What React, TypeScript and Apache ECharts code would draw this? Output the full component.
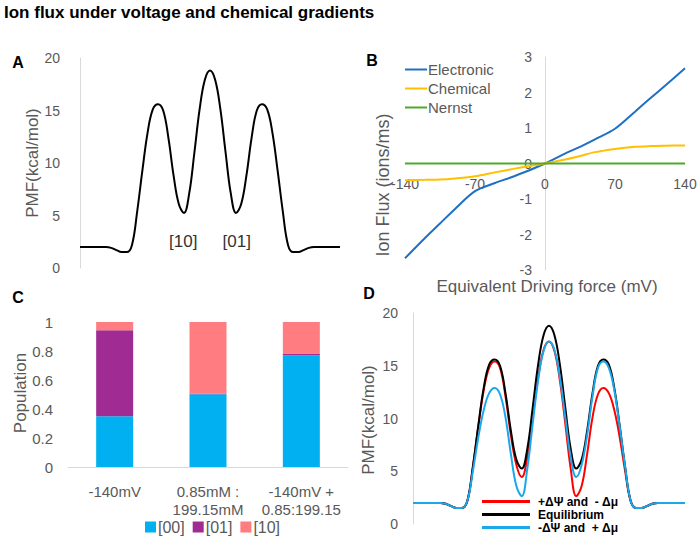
import React, { useEffect, useRef } from "react";
import * as echarts from "echarts";

// ---------- Panel A / D : PMF profiles ----------
const pmfX = [0, 2, 4, 6, 8, 10, 12, 14, 16, 18, 20, 22, 24, 26, 28, 30, 32, 34, 36, 38, 40, 42, 44, 46, 48, 50, 52, 54, 56, 58, 60, 62, 64, 66, 68, 70, 72, 74, 76, 78, 80, 82, 84, 86, 88, 90, 92, 94, 96, 98, 100];
const pmfEquilibrium = [2.0, 2.0, 2.0, 2.0, 2.0, 2.0, 1.92, 1.7, 1.52, 1.52, 2.2, 5.4, 9.3, 12.9, 15.1, 15.6, 15.0, 12.4, 8.8, 6.1, 5.25, 7.1, 11.0, 15.1, 17.9, 18.8, 17.9, 15.1, 11.0, 7.1, 5.25, 6.1, 8.8, 12.4, 15.0, 15.6, 15.1, 12.9, 9.3, 5.4, 2.2, 1.52, 1.52, 1.7, 1.92, 2.0, 2.0, 2.0, 2.0, 2.0, 2.0];
const pmfPlusPsi = [2.0, 2.0, 2.0, 2.0, 2.0, 2.0, 1.92, 1.7, 1.52, 1.52, 2.2, 5.4, 9.2, 12.7, 14.8, 15.4, 14.8, 12.1, 8.4, 5.6, 4.45, 6.3, 10.1, 13.9, 16.5, 17.3, 16.4, 13.6, 9.5, 5.2, 2.65, 3.6, 6.6, 10.1, 12.3, 12.9, 12.4, 10.8, 8.2, 5.0, 2.2, 1.52, 1.52, 1.7, 1.92, 2.0, 2.0, 2.0, 2.0, 2.0, 2.0];
const pmfMinusPsi = [2.0, 2.0, 2.0, 2.0, 2.0, 2.0, 1.92, 1.7, 1.52, 1.52, 2.2, 5.0, 8.2, 10.8, 12.4, 12.9, 12.3, 10.1, 6.6, 3.6, 2.65, 5.2, 9.5, 13.6, 16.4, 17.3, 16.5, 13.9, 10.1, 6.3, 4.45, 5.6, 8.4, 12.1, 14.8, 15.4, 14.8, 12.7, 9.2, 5.4, 2.2, 1.52, 1.52, 1.7, 1.92, 2.0, 2.0, 2.0, 2.0, 2.0, 2.0];
const siteLabels = ["[10]", "[01]"];
const siteX = [39.7, 60.3];
const siteY = [2.5, 2.5];

// ---------- Panel B : Ion flux ----------
const fluxX = [-140, -120, -105, -90, -70, -50, -35, -20, 0, 20, 35, 50, 70, 90, 105, 120, 140];
const fluxElectronic = [-2.67, -2.1, -1.69, -1.28, -0.78, -0.55, -0.4, -0.24, 0, 0.28, 0.47, 0.68, 0.98, 1.46, 1.83, 2.19, 2.68];
const fluxChemical = [-0.47, -0.46, -0.45, -0.42, -0.36, -0.25, -0.17, -0.09, 0, 0.11, 0.21, 0.32, 0.41, 0.47, 0.49, 0.5, 0.51];
const fluxNernst = [0, 0, 0, 0, 0, 0, 0, 0, 0, 0, 0, 0, 0, 0, 0, 0, 0];

// ---------- Panel C : Population ----------
const popCategories = ["-140mV", "0.85mM :\n199.15mM", "-140mV +\n0.85:199.15"];
const pop00 = [0.35, 0.502, 0.77];
const pop01 = [0.593, 0.004, 0.012];
const pop10 = [0.057, 0.494, 0.218];

const FONT = "Liberation Sans";
const GRAY = "#595959";
const AXIS = "#d9d9d9";

const zip = (xs: number[], ys: number[]) => xs.map((x, i) => [x, ys[i]]);

export default function App() {
  const ref = useRef<HTMLDivElement>(null);
  useEffect(() => {
    const chart = echarts.init(ref.current!, null, { renderer: "svg" });
    const tick = { color: GRAY, fontSize: 14, fontFamily: FONT };
    const gridB = { left: 405, top: 57, width: 280, height: 213 };
    const option: any = {
      animation: false,
      backgroundColor: "#ffffff",
      textStyle: { fontFamily: FONT },
      grid: [
        { left: 80, top: 58, width: 260, height: 210 },
        gridB,
        { left: 68, top: 322, width: 280, height: 145 },
        { left: 413, top: 313, width: 272, height: 211 },
      ],
      xAxis: [
        { type: "value", gridIndex: 0, min: 0, max: 100, show: false },
        {
          type: "value", gridIndex: 1, min: -140, max: 140, interval: 70, position: "bottom",
          offset: -gridB.height / 2,
          axisLine: { onZero: false, lineStyle: { color: AXIS } },
          axisTick: { show: false }, splitLine: { show: false },
          axisLabel: { ...tick, margin: 13 },
        },
        {
          type: "category", gridIndex: 2, data: popCategories,
          axisLine: { lineStyle: { color: AXIS } }, axisTick: { show: false },
          axisLabel: { color: GRAY, fontSize: 15, lineHeight: 18, margin: 15, interval: 0, fontFamily: FONT },
        },
        { type: "value", gridIndex: 3, min: 0, max: 100, show: false },
      ],
      yAxis: [
        {
          type: "value", gridIndex: 0, min: 0, max: 20, interval: 5,
          axisLine: { show: true, lineStyle: { color: AXIS } }, axisTick: { show: false },
          splitLine: { show: false }, axisLabel: { ...tick, margin: 20 },
        },
        {
          type: "value", gridIndex: 1, min: -3, max: 3, interval: 1, position: "left",
          offset: -gridB.width / 2,
          axisLine: { show: true, onZero: false, lineStyle: { color: AXIS } }, axisTick: { show: false },
          splitLine: { show: false }, axisLabel: { ...tick, margin: 13 },
        },
        {
          type: "value", gridIndex: 2, min: 0, max: 1, interval: 0.2,
          axisLine: { show: false }, axisTick: { show: false },
          splitLine: { show: false }, axisLabel: { color: GRAY, fontSize: 15, margin: 15, fontFamily: FONT },
        },
        {
          type: "value", gridIndex: 3, min: 0, max: 20, interval: 5,
          axisLine: { show: true, lineStyle: { color: AXIS } }, axisTick: { show: false },
          splitLine: { show: false }, axisLabel: { ...tick, margin: 15 },
        },
      ],
      legend: [
        {
          data: ["Electronic", "Chemical", "Nernst"], orient: "vertical", icon: "rect",
          left: 405, top: 61, padding: 0, itemWidth: 22, itemHeight: 2, itemGap: 2,
          textStyle: { color: GRAY, fontSize: 15, fontFamily: FONT, lineHeight: 17, padding: [0, 0, 0, -4] },
        },
        {
          data: ["[00]", "[01]", "[10]"], orient: "horizontal", icon: "rect",
          left: 145, top: 519, padding: 0, itemWidth: 11, itemHeight: 11, itemGap: 8,
          textStyle: { color: GRAY, fontSize: 16, fontFamily: FONT, padding: [0, 0, 0, -3] },
        },
        {
          data: ["+ΔΨ and  - Δμ", "Equilibrium", "-ΔΨ and  + Δμ"], orient: "vertical", icon: "rect",
          left: 482, top: 495, padding: 0, height: 45, itemWidth: 48, itemHeight: 3, itemGap: 0,
          textStyle: { color: "#000", fontSize: 12, fontWeight: "bold", fontFamily: FONT, lineHeight: 13, padding: [0, 0, 0, 3] },
        },
      ],
      series: [
        {
          name: "PMF", type: "line", xAxisIndex: 0, yAxisIndex: 0, data: zip(pmfX, pmfEquilibrium),
          smooth: 0.4, symbol: "none", lineStyle: { color: "#000", width: 2 }, itemStyle: { color: "#000" },
          markPoint: {
            symbol: "circle", symbolSize: 0,
            label: { show: true, position: "inside", color: "#333", fontSize: 17, fontFamily: FONT, formatter: (p: any) => p.name },
            data: siteLabels.map((s, i) => ({ name: s, coord: [siteX[i], siteY[i]] })),
          },
        },
        {
          name: "Electronic", type: "line", xAxisIndex: 1, yAxisIndex: 1, data: zip(fluxX, fluxElectronic),
          smooth: 0.3, symbol: "none", lineStyle: { color: "#1f6fc4", width: 2 }, itemStyle: { color: "#1f6fc4" },
        },
        {
          name: "Chemical", type: "line", xAxisIndex: 1, yAxisIndex: 1, data: zip(fluxX, fluxChemical),
          smooth: 0.3, symbol: "none", lineStyle: { color: "#ffc000", width: 2 }, itemStyle: { color: "#ffc000" },
        },
        {
          name: "Nernst", type: "line", xAxisIndex: 1, yAxisIndex: 1, data: zip(fluxX, fluxNernst),
          symbol: "none", lineStyle: { color: "#4ea72e", width: 2 }, itemStyle: { color: "#4ea72e" },
        },
        {
          name: "[00]", type: "bar", xAxisIndex: 2, yAxisIndex: 2, stack: "pop", data: pop00,
          barWidth: 37, itemStyle: { color: "#00b0f0" },
        },
        {
          name: "[01]", type: "bar", xAxisIndex: 2, yAxisIndex: 2, stack: "pop", data: pop01,
          barWidth: 37, itemStyle: { color: "#a02b93" },
        },
        {
          name: "[10]", type: "bar", xAxisIndex: 2, yAxisIndex: 2, stack: "pop", data: pop10,
          barWidth: 37, itemStyle: { color: "#ff7c80" },
        },
        {
          name: "+ΔΨ and  - Δμ", type: "line", xAxisIndex: 3, yAxisIndex: 3, data: zip(pmfX, pmfPlusPsi),
          smooth: 0.4, symbol: "none", lineStyle: { color: "#ff0000", width: 2 }, itemStyle: { color: "#ff0000" },
        },
        {
          name: "Equilibrium", type: "line", xAxisIndex: 3, yAxisIndex: 3, data: zip(pmfX, pmfEquilibrium),
          smooth: 0.4, symbol: "none", lineStyle: { color: "#000000", width: 2 }, itemStyle: { color: "#000000" },
        },
        {
          name: "-ΔΨ and  + Δμ", type: "line", xAxisIndex: 3, yAxisIndex: 3, data: zip(pmfX, pmfMinusPsi),
          smooth: 0.4, symbol: "none", lineStyle: { color: "#1aa7ec", width: 2 }, itemStyle: { color: "#1aa7ec" },
        },
      ],
      graphic: [
        { type: "text", x: 4, y: 12, style: { text: "Ion flux under voltage and chemical gradients", fill: "#000", fontSize: 17, fontWeight: "bold", fontFamily: FONT, verticalAlign: "middle" } },
        { type: "text", x: 18, y: 62, style: { text: "A", fill: "#000", fontSize: 16, fontWeight: "bold", fontFamily: FONT, align: "center", verticalAlign: "middle" } },
        { type: "text", x: 372, y: 60, style: { text: "B", fill: "#000", fontSize: 16, fontWeight: "bold", fontFamily: FONT, align: "center", verticalAlign: "middle" } },
        { type: "text", x: 18, y: 297, style: { text: "C", fill: "#000", fontSize: 16, fontWeight: "bold", fontFamily: FONT, align: "center", verticalAlign: "middle" } },
        { type: "text", x: 369, y: 293, style: { text: "D", fill: "#000", fontSize: 16, fontWeight: "bold", fontFamily: FONT, align: "center", verticalAlign: "middle" } },
        { type: "text", x: 32, y: 163, rotation: Math.PI / 2, style: { text: "PMF(kcal/mol)", fill: GRAY, fontSize: 17, fontFamily: FONT, align: "center", verticalAlign: "middle" } },
        { type: "text", x: 383, y: 185, rotation: Math.PI / 2, style: { text: "Ion Flux (ions/ms)", fill: GRAY, fontSize: 18, fontFamily: FONT, align: "center", verticalAlign: "middle" } },
        { type: "text", x: 547, y: 286, style: { text: "Equivalent Driving force (mV)", fill: GRAY, fontSize: 17, fontFamily: FONT, align: "center", verticalAlign: "middle" } },
        { type: "text", x: 20, y: 393, rotation: Math.PI / 2, style: { text: "Population", fill: GRAY, fontSize: 17, fontFamily: FONT, align: "center", verticalAlign: "middle" } },
        { type: "text", x: 368, y: 420, rotation: Math.PI / 2, style: { text: "PMF(kcal/mol)", fill: GRAY, fontSize: 17, fontFamily: FONT, align: "center", verticalAlign: "middle" } },
      ],
    };
    chart.setOption(option);
    return () => chart.dispose();
  }, []);
  return (
    <div
      ref={ref}
      style={{ position: "absolute", left: 0, top: 0, width: 700, height: 542, background: "#fff" }}
    />
  );
}
